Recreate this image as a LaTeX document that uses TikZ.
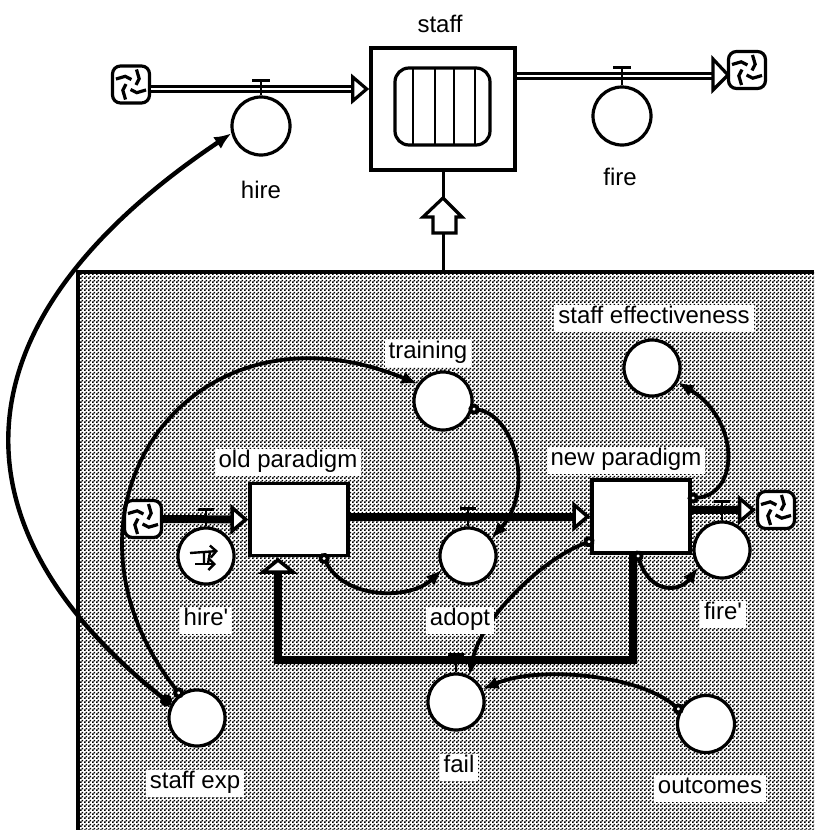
\documentclass[tikz,border=0pt]{standalone}
\usepackage{fontspec}
\setmainfont{Liberation Sans}
\usepackage{xcolor}
\usepackage{tikz}
\usetikzlibrary{arrows.meta,calc,patterns}
\pgfdeclarepatternformonly{dither}{\pgfqpoint{0pt}{0pt}}{\pgfqpoint{4pt}{4pt}}{\pgfqpoint{4pt}{4pt}}{%
  \pgfpathrectangle{\pgfqpoint{0pt}{0pt}}{\pgfqpoint{2pt}{2pt}}%
  \pgfpathrectangle{\pgfqpoint{2pt}{2pt}}{\pgfqpoint{2pt}{2pt}}%
  \pgfusepath{fill}}
\tikzset{
  auxcirc/.style={circle,draw,line width=3.2pt,fill=white,minimum size=56pt,inner sep=0pt},
  stockbox/.style={rectangle,draw,line width=3.2pt,fill=white,inner sep=0pt},
  cloudbox/.style={rectangle,rounded corners=8pt,draw,line width=3.2pt,fill=white,minimum size=37pt,inner sep=0pt},
  lbl/.style={fill=white,inner xsep=4pt,inner ysep=2pt,text height=17pt,text depth=6pt,font=\fontsize{24}{27}\selectfont},
  infolink/.style={line width=3.8pt,shorten <=-4pt,{Circle[open,fill=white,length=11pt]}-{Latex[length=16pt,width=13pt]}},
  flowthin/.style={double,double distance=1.6pt,line width=3.2pt,-{Triangle[open,fill=white,length=18pt,width=30pt]}},
  flowthick/.style={line width=8pt,-{Triangle[open,fill=white,length=18pt,width=30pt,line width=3.5pt]}},
}
\newcommand{\cloudnode}[3]{%
  \node[cloudbox] (#1) at (#2,#3) {};
  \foreach \ang in {20,110,200,290}{
    \draw[line width=3.2pt] ($(#1)+(\ang:16)$) -- ($(#1)+(\ang+35:10)$) -- ($(#1)+(\ang+75:5)$);
  }}
\begin{document}
\begin{tikzpicture}[x=1pt,y=-1pt,>=Latex]
\useasboundingbox (0,0) rectangle (814,830);
% ---- shaded sector ----
\fill[white] (78,272) rectangle (814,830);
\fill[pattern=dither] (78,272) rectangle (814,830);
\draw[line width=3.5pt] (814,272) -- (78,272) -- (78,830);
\coordinate (sectortop) at (443,272);
% ---- top level: staff with its two rates ----
\node[stockbox,line width=3.6pt,minimum width=144pt,minimum height=122pt] (staff) at (443,109) {};
\node[stockbox,rounded corners=14pt,minimum width=95pt,minimum height=77pt] (tank) at (442.5,106.5) {};
\foreach \xv in {413,435,454,475}{
  \draw[line width=2.6pt] (\xv,68) -- (\xv,145);
}
\cloudnode{cloudhire}{131}{84.5}
\cloudnode{cloudfire}{747}{70}
\node[auxcirc,minimum size=58pt] (hire) at (261,126) {};
\node[auxcirc,minimum size=58pt] (fire) at (622,116) {};
\draw[flowthin] (cloudhire.east |- 0,89) -- (staff.west |- 0,89);
\draw[double,double distance=1.6pt,line width=3.2pt] (staff.east |- 0,76) -- (713,76);
\draw[line width=3.2pt,fill=white] (713,59) -- (728,75) -- (713,90) -- cycle;
% valves on the thin flows
\foreach \vv/\hh in {hire/15,fire/18}{
  \draw[line width=2.8pt] (\vv.north) -- ++(0,-\hh) ++(-9,0) -- ++(18,0);
}
% ---- sector: converter chain ----
\node[stockbox,minimum width=98pt,minimum height=72pt] (oldparadigm) at (299,519.5) {};
\node[stockbox,minimum width=98pt,minimum height=73pt] (newparadigm) at (641,516.5) {};
\cloudnode{cloudin}{143}{519}
\cloudnode{cloudout}{776}{510}
\node[auxcirc] (hireprime) at (206,556) {};
\node[auxcirc] (adopt) at (468,556) {};
\node[auxcirc] (fireprime) at (722,550) {};
\node[auxcirc,minimum size=58pt] (training) at (443,401) {};
\node[auxcirc] (staffeff) at (652,368) {};
\node[auxcirc] (staffexp) at (197,718) {};
\node[auxcirc] (fail) at (456,702) {};
\node[auxcirc,minimum size=57pt] (outcomes) at (706,724) {};
% thick flows
\draw[flowthick] (cloudin.east) -- (oldparadigm.west);
\draw[flowthick] (oldparadigm.east |- newparadigm.west) -- (newparadigm.west);
\draw[flowthick] (newparadigm.east |- cloudout.west) -- (cloudout.west);
\draw[line width=8pt,line join=miter] (633,553) -- (633,660) -- (278,660) -- (278,572);
\draw[line width=3.5pt,fill=white] (278,560) -- (293,572) -- (263,572) -- cycle;
\foreach \vv/\hh in {hireprime/17,adopt/18,fireprime/19,fail/18}{
  \draw[line width=2.8pt] (\vv.north) -- ++(0,-\hh) ++(-8,0) -- ++(16,0);
}
% graphical function mark
\draw[line width=2.4pt,-{Straight Barb[length=6pt]}] (190,553) -- (218,551);
\draw[line width=2.4pt,-{Straight Barb[length=6pt]}] (195,564) -- (216,564);
\draw[line width=2.4pt] (204,552) -- (204,564) (210,552) -- (208,564);
% ---- info links ----
\draw[line width=4.4pt,{Circle[length=12pt]}-{Latex[length=17pt,width=14pt]}] (staffexp.152) .. controls (-35,542) and (-70,336) .. (hire.194);
\draw[infolink] (staffexp.126) .. controls (35,510) and (190,290) .. (training.146);
\draw[infolink] (training.-15) .. controls (515,415) and (535,490) .. (adopt.37);
\draw[infolink] (oldparadigm.-57) .. controls (345,600) and (410,600) .. (adopt.208);
\draw[infolink] (newparadigm.206) .. controls (540,560) and (480,620) .. (fail.63);
\draw[infolink] (newparadigm.-95) .. controls (650,595) and (680,592) .. (fireprime.216);
\draw[infolink] (newparadigm.20) .. controls (740,495) and (740,420) .. (staffeff.-29);
\draw[infolink] (outcomes.152) .. controls (640,675) and (540,665) .. (fail.26);
% ---- staff input from sector ----
\draw[line width=3pt] (staff.south) -- (sectortop);
\draw[line width=3.2pt,fill=white] (443,198) -- (462,217) -- (456,217) -- (456,233) -- (433,233) -- (433,217) -- (423,217) -- cycle;
% ---- labels ----
\node[lbl] (lblstaff) at (440,27) {staff};
\node[lbl] (lblhire) at (261,193) {hire};
\node[lbl] (lblfire) at (620,180) {fire};
\node[lbl] (lbleff) at (654,318) {staff effectiveness};
\node[lbl] (lbltrain) at (428,353) {training};
\node[lbl] (lblold) at (288,462) {old paradigm};
\node[lbl] (lblnew) at (626,460) {new paradigm};
\node[lbl] (lblhirep) at (206,620) {hire\textquotesingle};
\node[lbl] (lbladopt) at (460,620) {adopt};
\node[lbl] (lblfirep) at (723,614) {fire\textquotesingle};
\node[lbl] (lblfail) at (459,767) {fail};
\node[lbl] (lblexp) at (195,783) {staff exp};
\node[lbl] (lblout) at (710,788) {outcomes};
\end{tikzpicture}
\end{document}
